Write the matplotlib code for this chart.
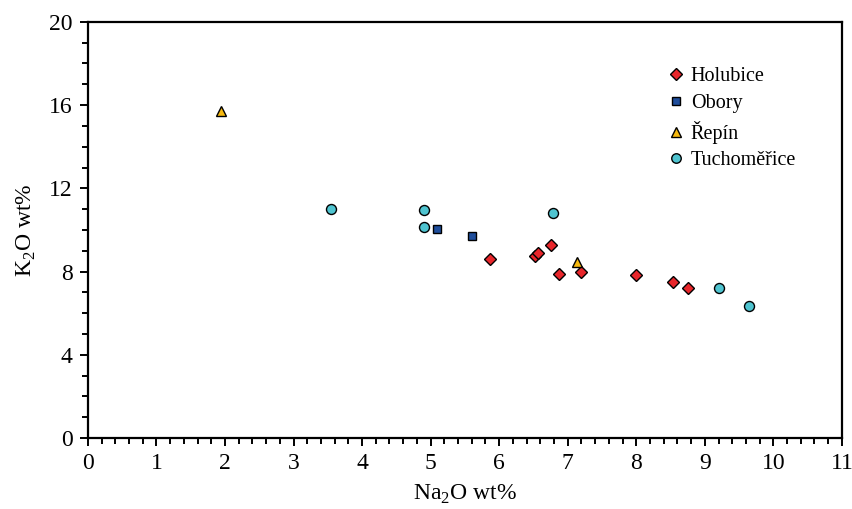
import matplotlib
matplotlib.use("Agg")
import matplotlib.pyplot as plt
from matplotlib.ticker import MultipleLocator

plt.rcParams['font.family'] = ['Liberation Serif', 'DejaVu Serif']
plt.rcParams['mathtext.fontset'] = 'custom'
plt.rcParams['mathtext.rm'] = 'Liberation Serif'

# Na2O, K2O (wt%)
holubice_na = [5.87, 6.52, 6.56, 6.76, 6.88, 7.19, 7.99, 8.53, 8.75]
holubice_k = [8.59, 8.76, 8.91, 9.28, 7.90, 7.98, 7.84, 7.51, 7.23]
obory_na = [5.10, 5.61]
obory_k = [10.03, 9.70]
repin_na = [1.94, 7.13]
repin_k = [15.72, 8.48]
tuch_na = [3.54, 4.90, 4.90, 6.79, 9.20, 9.64]
tuch_k = [10.99, 10.96, 10.14, 10.83, 7.23, 6.36]

fig = plt.figure(figsize=(8.53, 5.09), dpi=100)
ax = fig.add_axes([0.103, 0.1395, 0.884, 0.8175])

ax.plot(holubice_na, holubice_k, 'D', ms=6.0, mfc='#e8262b', mec='black', mew=1.0,
        ls='none', label='Holubice')
ax.plot(obory_na, obory_k, 's', ms=6.4, mfc='#1f4e9c', mec='black', mew=1.0,
        ls='none', label='Obory')
ax.plot(repin_na, repin_k, '^', ms=7.4, mfc='#f6b90f', mec='black', mew=1.0,
        ls='none', label='Řepín')
ax.plot(tuch_na, tuch_k, 'o', ms=7.2, mfc='#4fc4d0', mec='black', mew=1.0,
        ls='none', label='Tuchoměřice')

ax.set_xlim(0, 11)
ax.set_ylim(0, 20)
ax.xaxis.set_major_locator(MultipleLocator(1))
ax.xaxis.set_minor_locator(MultipleLocator(0.2))
ax.yaxis.set_major_locator(MultipleLocator(4))
ax.yaxis.set_minor_locator(MultipleLocator(1))
ax.tick_params(which='both', direction='out', width=1.4, labelsize=17, top=False, right=False)
ax.tick_params(which='major', length=6, pad=5)
ax.tick_params(which='minor', length=4)
for s in ax.spines.values():
    s.set_linewidth(1.6)

ax.set_xlabel('Na$_2$O wt%', fontsize=17, labelpad=6)
ax.set_ylabel('K$_2$O wt%', fontsize=17, labelpad=8)

leg = ax.legend(loc='upper left', bbox_to_anchor=(0.745, 0.935), frameon=False,
                fontsize=14.5, handletextpad=0.35, handlelength=0.8, labelspacing=0.38,
                markerscale=0.95)

fig.savefig('out.png', dpi=100)
